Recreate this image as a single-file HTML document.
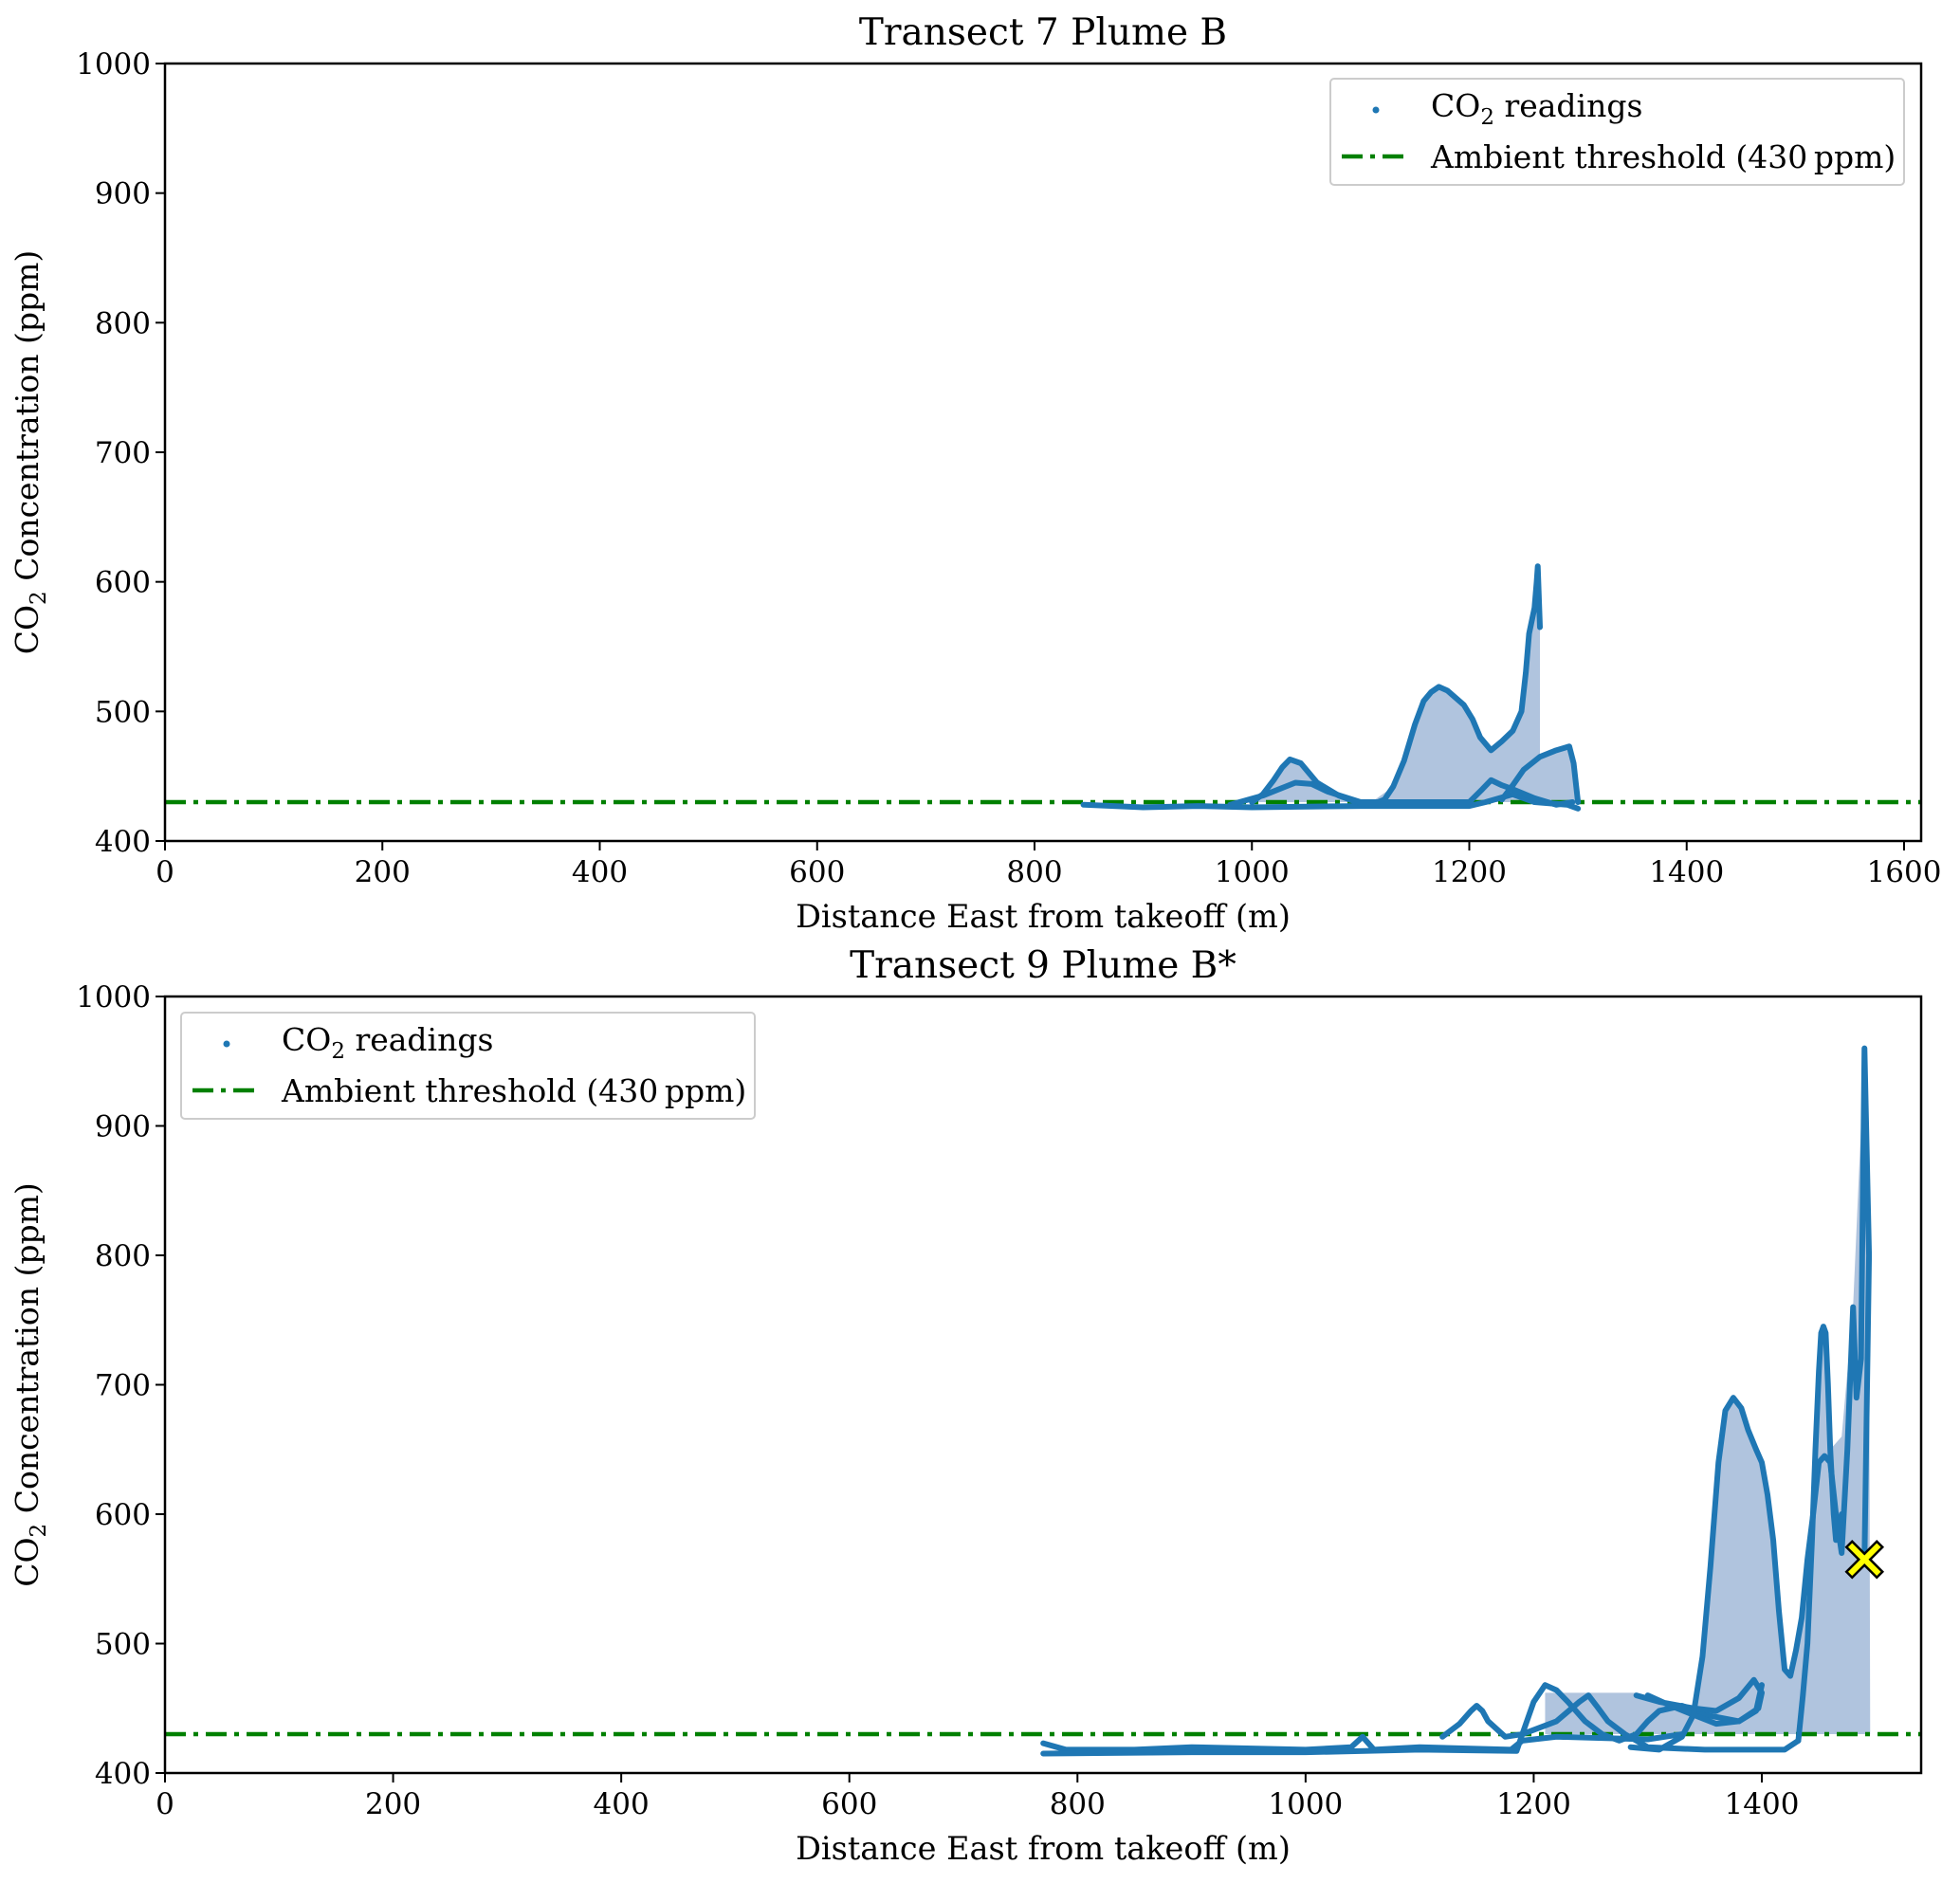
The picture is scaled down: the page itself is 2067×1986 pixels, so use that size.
<!DOCTYPE html>
<html><head><meta charset="utf-8"><style>
html,body{margin:0;padding:0;background:#fff}
svg{display:block}
text{font-family:"DejaVu Serif","Liberation Serif",serif;fill:#000}
</style></head>
<body>
<svg id="fig" width="2067" height="1986" viewBox="0 0 2067 1986" xmlns="http://www.w3.org/2000/svg"></svg>
<script>
// ---- data ----
const topXTicks=[0,200,400,600,800,1000,1200,1400,1600];
const botXTicks=[0,200,400,600,800,1000,1200,1400];
const yTicks=[400,500,600,700,800,900,1000];
const threshold=430;
const t7Base=[845,428,900,426,950,427,1000,426,1100,427,1200,427,1215,430,1240,436,1260,430,1290,428,1300,425];
const t7Upper=[1000,430,1010,436,1020,447,1028,457,1035,463,1045,460,1052,453,1060,445,1080,435,1100,429,1110,428,1122,432,1130,442,1140,462,1150,490,1158,508,1165,515,1172,519,1180,516,1195,505,1203,494,1210,480,1220,470,1230,477,1240,485,1248,500,1252,530,1255,560,1260,580,1262,600,1263,612,1265,565];
const t7Mid=[980,428,1010,435,1040,445,1055,444,1070,438,1100,430,1200,430,1212,440,1220,447,1230,443,1240,440,1260,433,1280,428,1295,430];
const t7Right=[1230,432,1240,443,1250,455,1265,465,1280,470,1292,473,1296,460,1300,430];
const t7Fill=[1000,430,1020,447,1035,463,1045,460,1060,445,1080,435,1110,430,1130,442,1150,490,1165,515,1175,518,1195,505,1210,480,1220,470,1240,485,1250,510,1255,560,1260,580,1265,580,1265,465,1280,470,1292,473,1300,430];
const t9Base1=[770,423,790,418,850,418,900,420,1000,418,1040,420,1050,428,1060,418,1100,420,1180,418,1190,425,1220,428,1300,426,1330,430];
const t9Base2=[770,415,900,416,1000,416,1100,418,1185,417,1190,430,1200,455,1210,468,1220,464,1230,455,1245,440,1260,430,1275,425,1290,430,1300,440,1310,448,1330,452,1350,445,1380,440,1395,448,1400,468];
const t9Hump=[1120,428,1135,438,1145,448,1150,452,1155,448,1160,440,1175,428,1190,430];
const t9Cross=[1190,430,1220,440,1240,455,1248,460,1255,452,1265,440,1280,430,1300,420,1350,418,1420,418,1432,425];
const t9Loop=[1290,460,1310,455,1340,450,1360,448,1380,458,1393,472,1400,462,1397,450,1380,440,1360,438,1340,445,1320,452,1300,460];
const t9Peak=[1285,420,1310,418,1330,428,1340,445,1348,490,1355,560,1362,640,1368,680,1375,690,1382,682,1388,665,1395,650,1400,640,1405,615,1410,580,1415,525,1420,480,1425,475,1430,495,1435,520,1440,565,1445,600,1450,640,1455,645,1460,640,1465,600,1470,570,1475,650,1480,760,1483,690,1487,720,1490,960,1492,880,1494,800,1490,565];
const t9Dot=[1432,425,1436,460,1440,500,1444,580,1447,650,1450,710,1452,740,1454,745,1456,740,1458,700,1460,650,1463,600,1465,580,1468,590,1470,600];
const t9Fill=[1210,430,1210,462,1290,462,1320,452,1340,450,1348,490,1355,560,1362,640,1368,680,1375,690,1385,675,1395,650,1400,640,1410,580,1420,480,1425,475,1435,520,1445,600,1452,740,1456,740,1460,650,1470,660,1480,760,1490,960,1494,800,1495,430];
const marker=[1490,565];

const NS="http://www.w3.org/2000/svg";
const svg=document.getElementById('fig');
function el(tag,attrs,parent){const e=document.createElementNS(NS,tag);for(const k in attrs)e.setAttribute(k,attrs[k]);(parent||svg).appendChild(e);return e;}
function mkAxis(cfg){
  const sx=v=>cfg.L+(v-cfg.xmin)*cfg.kx;
  const sy=v=>cfg.B-(v-400)*(cfg.B-cfg.T)/600;
  const g=el('g',{});
  
  
  const t=el('text',{x:(cfg.L+cfg.R)/2,y:cfg.T-20,'font-size':39,'text-anchor':'middle'},g);
  t.textContent=cfg.title;
  
  
  const fp=[];for(let i=0;i<cfg.fill.length;i+=2)fp.push(sx(cfg.fill[i])+','+sy(cfg.fill[i+1]));
  const f=el('polygon',{points:fp.join(' '),fill:'#b0c4de',stroke:'none'},g);
  
  
  const th=el('line',{x1:cfg.L,x2:cfg.R,y1:sy(threshold),y2:sy(threshold),stroke:'#008000','stroke-width':4.5,'stroke-dasharray':'22,8,5,8'},g);
  
  
  cfg.series.forEach((s,i)=>{
    const p=[];for(let j=0;j<s.length;j+=2)p.push(sx(s[j])+','+sy(s[j+1]));
    const pl=el('polyline',{points:p.join(' '),fill:'none',stroke:'#1f77b4','stroke-width':6,'stroke-linejoin':'round','stroke-linecap':'round'},g);
    
    
  });
  const fr=el('rect',{x:cfg.L,y:cfg.T,width:cfg.R-cfg.L,height:cfg.B-cfg.T,fill:'none',stroke:'#000','stroke-width':2.5},g);
  
  
  cfg.xt.forEach(v=>{
    el('line',{x1:sx(v),x2:sx(v),y1:cfg.B,y2:cfg.B+10,stroke:'#000','stroke-width':2},g);
    const tx=el('text',{x:sx(v),y:cfg.B+43,'font-size':31,'text-anchor':'middle'},g);
    tx.textContent=v;
    
    
  });
  yTicks.forEach(v=>{
    el('line',{x1:cfg.L-10,x2:cfg.L,y1:sy(v),y2:sy(v),stroke:'#000','stroke-width':2},g);
    const ty=el('text',{x:cfg.L-15,y:sy(v)+11,'font-size':31,'text-anchor':'end'},g);
    ty.textContent=v;
    
    
  });
  const xl=el('text',{x:(cfg.L+cfg.R)/2,y:cfg.B+91,'font-size':33.5,'text-anchor':'middle'},g);
  xl.textContent='Distance East from takeoff (m)';
  
  
  const yl=el('text',{x:0,y:0,'font-size':33,'text-anchor':'middle',transform:`translate(40,${(cfg.T+cfg.B)/2}) rotate(-90)`},g);
  yl.innerHTML='CO<tspan font-size="23" dy="8">2</tspan><tspan dy="-8"> Concentration (ppm)</tspan>';
  
  
  const lg=el('g',{},g);
  
  
  el('rect',{x:cfg.lx,y:cfg.ly,width:605,height:112,rx:4,fill:'#fff',stroke:'#ccc','stroke-width':2},lg);
  el('circle',{cx:cfg.lx+48,cy:cfg.ly+33,r:3.5,fill:'#1f77b4'},lg);
  const l1=el('text',{x:cfg.lx+106,y:cfg.ly+40,'font-size':33},lg);
  l1.innerHTML='CO<tspan font-size="23" dy="8">2</tspan><tspan dy="-8"> readings</tspan>';
  
  
  el('line',{x1:cfg.lx+12,x2:cfg.lx+82,y1:cfg.ly+82,y2:cfg.ly+82,stroke:'#008000','stroke-width':4.5,'stroke-dasharray':'22,8,5,8'},lg);
  const l2=el('text',{x:cfg.lx+106,y:cfg.ly+94,'font-size':33},lg);
  l2.textContent='Ambient threshold (430\u2009ppm)';
  
  
  if(cfg.marker){
    const mx=sx(cfg.marker[0]),my=sy(cfg.marker[1]);
    const m=el('path',{d:`M${mx-13},${my-19} L${mx},${my-6} L${mx+13},${my-19} L${mx+19},${my-13} L${mx+6},${my} L${mx+19},${my+13} L${mx+13},${my+19} L${mx},${my+6} L${mx-13},${my+19} L${mx-19},${my+13} L${mx-6},${my} L${mx-19},${my-13} Z`,fill:'#ffff00',stroke:'#000','stroke-width':2.5},g);
    
    
  }
}
mkAxis({name:'transect-7-chart',title:'Transect 7 Plume B',L:174,R:2026,T:67,B:887,xmin:0,kx:(2008-174)/1600,xt:topXTicks,
  series:[t7Base,t7Upper,t7Mid,t7Right],fill:t7Fill,lx:1403,ly:83});
mkAxis({name:'transect-9-chart',title:'Transect 9 Plume B*',L:174,R:2026,T:1051,B:1870,xmin:0,kx:(1858-174)/1400,xt:botXTicks,
  series:[t9Base1,t9Base2,t9Hump,t9Cross,t9Loop,t9Peak,t9Dot],fill:t9Fill,lx:191,ly:1068,marker:marker});
</script>
</body></html>
